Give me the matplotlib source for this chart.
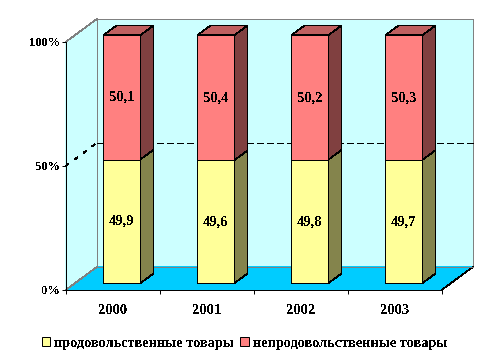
import matplotlib
matplotlib.use("Agg")
import matplotlib.pyplot as plt
from matplotlib.patches import Patch, Polygon

plt.rcParams['font.family'] = ['Liberation Serif', 'DejaVu Serif']
plt.rcParams['font.weight'] = 'bold'
plt.rcParams['text.antialiased'] = False

years = ['2000', '2001', '2002', '2003']
food = [49.9, 49.6, 49.8, 49.7]
nonfood = [50.1, 50.4, 50.2, 50.3]
series_names = ['продовольственные товары', 'непродовольственные товары']
y_ticks = [0, 50, 100]

# shear of the fake 3D box, in data units, for full depth
DX = 0.337
DY = 9.44
BAR_W = 0.394
Z0, Z1 = 0.286, 0.70
PX = 0.72  # one pixel line at dpi 100
THIN = 0.5  # slanted lines come out too heavy at PX


def proj(x, y, z):
    return (x + z * DX, y + z * DY)


def quad(ax, pts, color, edge='black', lw=PX, zorder=2):
    p = Polygon([proj(*q) for q in pts], closed=True, facecolor=color,
                edgecolor=edge, linewidth=lw, clip_on=False, zorder=zorder,
                joinstyle='miter', antialiased=False)
    ax.add_patch(p)


def line3d(ax, a, b, color='black', lw=PX, ls='-', zorder=1.3):
    pa, pb = proj(*a), proj(*b)
    ax.plot([pa[0], pb[0]], [pa[1], pb[1]], color=color, lw=lw, ls=ls,
            clip_on=False, zorder=zorder, antialiased=False)


def draw_box(ax, x0, x1, y0, y1, front, side, top=None, zorder=3):
    quad(ax, [(x1, y0, Z0), (x1, y0, Z1), (x1, y1, Z1), (x1, y1, Z0)], side, lw=THIN, zorder=zorder)
    if top:
        quad(ax, [(x0, y1, Z0), (x1, y1, Z0), (x1, y1, Z1), (x0, y1, Z1)], top, lw=THIN, zorder=zorder)
    quad(ax, [(x0, y0, Z0), (x1, y0, Z0), (x1, y1, Z0), (x0, y1, Z0)], front, zorder=zorder + 0.1)


fig = plt.figure(figsize=(4.89, 3.61), dpi=100)
ax = fig.add_axes([65.7 / 489, 71 / 361, 376 / 489, 248 / 361])
ax.set_xlim(0, len(years))
ax.set_ylim(0, 100)
ax.patch.set_visible(False)

n = len(years)
gray = '#808080'
# walls and floor
quad(ax, [(0, 0, 1), (n, 0, 1), (n, 100, 1), (0, 100, 1)], '#CCFFFF', edge=gray, lw=PX, zorder=1)
quad(ax, [(0, 0, 0), (0, 0, 1), (0, 100, 1), (0, 100, 0)], '#CCFFFF', edge='none', lw=0, zorder=1)
quad(ax, [(0, 0, 0), (n, 0, 0), (n, 0, 1), (0, 0, 1)], '#00CCFF', edge='none', lw=0, zorder=1.2)
line3d(ax, (n, 0, 0), (n, 0, 1), lw=THIN)
line3d(ax, (0, 0, 1), (n, 0, 1), color=gray)
line3d(ax, (0, 0, 0), (0, 0, 1), color=gray, lw=THIN)
line3d(ax, (0, 100, 0), (0, 100, 1), color=gray, lw=THIN)
line3d(ax, (0, 0, 1), (0, 100, 1), color=gray)

# 50% gridline on the walls
line3d(ax, (0, 50, 0), (0, 50, 1), lw=THIN, ls=(0, (5, 11)), zorder=1.5)
line3d(ax, (0, 50, 1), (n, 50, 1), ls=(0, (6, 3)), zorder=1.5)

for i in range(n):
    x0 = i + 0.5 - BAR_W / 2
    x1 = i + 0.5 + BAR_W / 2
    draw_box(ax, x0, x1, 0, food[i], '#FFFF99', '#84844C', zorder=3 + i)
    draw_box(ax, x0, x1, food[i], 100, '#FF8080', '#804040', top='#BF6060', zorder=3 + i)
    cx, cy = proj(i + 0.5, food[i] / 2, Z0)
    ax.text(cx, cy, f'{food[i]}'.replace('.', ','), ha='center', va='center',
            fontsize=10.5, zorder=20)
    cx, cy = proj(i + 0.5, food[i] + nonfood[i] / 2, Z0)
    ax.text(cx, cy, f'{nonfood[i]}'.replace('.', ','), ha='center', va='center',
            fontsize=10.5, zorder=20)

for s in ['top', 'right']:
    ax.spines[s].set_visible(False)
for s in ['left', 'bottom']:
    ax.spines[s].set_linewidth(PX)
    ax.spines[s].set_antialiased(False)
    ax.spines[s].set_zorder(2)

ax.set_yticks(y_ticks, [f'{v}%' for v in y_ticks])
ax.set_xticks(range(n + 1), [''] * (n + 1))
ax.set_xticks([i + 0.5 for i in range(n)], years, minor=True)
ax.tick_params(axis='y', length=3, width=PX, pad=1, labelsize=9)
ax.tick_params(axis='x', which='major', length=3, width=PX)
ax.tick_params(axis='x', which='minor', length=0, pad=10, labelsize=10.5)

handles = [Patch(facecolor='#FFFF99', edgecolor='black', linewidth=PX),
           Patch(facecolor='#FF8080', edgecolor='black', linewidth=PX)]
fig.legend(handles, series_names, ncol=2, frameon=False, fontsize=10.3,
           loc='center', bbox_to_anchor=(244.5 / 489, 1 - 343.5 / 361),
           handlelength=0.6, handleheight=0.6, handletextpad=0.3,
           columnspacing=0.42, borderpad=0, borderaxespad=0)

fig.savefig('out.png', dpi=100)
